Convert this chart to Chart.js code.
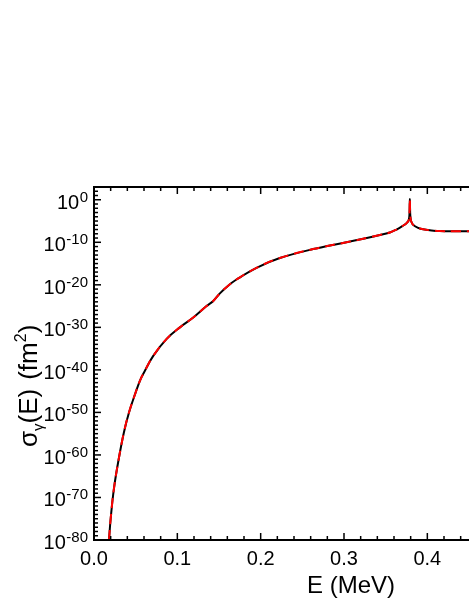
<!DOCTYPE html>
<html>
<head>
<meta charset="utf-8">
<script src="https://cdn.jsdelivr.net/npm/chart.js@4.4.1/dist/chart.umd.min.js"></script>
<style>
  html, body { margin: 0; padding: 0; background: #fff; }
  #wrap { width: 469px; height: 607px; position: relative; }
</style>
</head>
<body>
<div id="wrap"><canvas id="c"></canvas></div>
<script>
// energy E (MeV) and log10 of sigma_gamma (fm^2)
const energy = [0.0180, 0.0200, 0.0240, 0.0300, 0.0360, 0.0420, 0.0500, 0.0552, 0.0600, 0.0711, 0.0872,
                0.1031, 0.1191, 0.1351, 0.1431, 0.1511, 0.1610, 0.1710, 0.1950, 0.2230,
                0.2630, 0.3030, 0.3430, 0.3550, 0.3630, 0.3700, 0.3750, 0.3775, 0.3785, 0.3790,
                0.3795, 0.3805, 0.3830, 0.3890, 0.3950, 0.4050, 0.4150, 0.4300, 0.4500];
const logSigma = [-80, -75.0, -67.8, -60.6, -54.6, -50.0, -45.3, -42.5, -40.6, -36.7, -32.7,
                  -30.0, -27.7, -25.0, -23.8, -22.0, -20.2, -18.75, -16.0, -13.7,
                  -11.6, -10.0, -8.3, -7.7, -7.0, -6.2, -5.5, -4.9, -3.5, 0.2,
                  -3.5, -5.0, -5.9, -6.6, -6.95, -7.2, -7.35, -7.4, -7.4];

const xMajor = [0.0, 0.1, 0.2, 0.3, 0.4];
const xLabels = ['0.0', '0.1', '0.2', '0.3', '0.4'];
const yMajorExp = [0, -10, -20, -30, -40, -50, -60, -70, -80];

const points = energy.map((e, i) => ({ x: e, y: Math.pow(10, logSigma[i]) }));

const FONT = '"Liberation Sans", Arial, sans-serif';

const axesPlugin = {
    id: 'axesPlugin',
    afterDraw(chart) {
        const { ctx, chartArea: a, scales } = chart;
        const xs = scales.x, ys = scales.y;
        ctx.save();
        ctx.strokeStyle = '#000';
        ctx.fillStyle = '#000';

        // frame
        ctx.lineWidth = 2;
        ctx.beginPath();
        ctx.moveTo(a.right + 2, a.top); ctx.lineTo(a.left, a.top);
        ctx.lineTo(a.left, a.bottom); ctx.lineTo(a.right + 2, a.bottom);
        ctx.stroke();

        // x ticks (inward, top and bottom)
        ctx.lineWidth = 1.5;
        for (let k = 0; k <= 22; k++) {
            const v = k * 0.02;
            const px = xs.getPixelForValue(v);
            if (px > a.right + 1) continue;
            const len = (k % 5 === 0) ? 7 : 4;
            ctx.beginPath();
            ctx.moveTo(px, a.bottom); ctx.lineTo(px, a.bottom - len);
            ctx.moveTo(px, a.top); ctx.lineTo(px, a.top + len);
            ctx.stroke();
        }

        // y ticks (inward, left)
        for (let e = -80; e <= 3; e++) {
            const py = ys.getPixelForValue(Math.pow(10, e));
            const len = (e % 10 === 0) ? 7 : 4;
            ctx.beginPath();
            ctx.moveTo(a.left, py); ctx.lineTo(a.left + len, py);
            ctx.stroke();
        }

        // x tick labels
        ctx.font = '20px ' + FONT;
        ctx.textAlign = 'center';
        ctx.textBaseline = 'alphabetic';
        xMajor.forEach((v, i) => {
            ctx.fillText(xLabels[i], xs.getPixelForValue(v), 565);
        });

        // y tick labels 10^n
        yMajorExp.forEach(e => {
            const py = ys.getPixelForValue(Math.pow(10, e));
            ctx.textAlign = 'right';
            ctx.font = '15px ' + FONT;
            const sup = String(e);
            ctx.fillText(sup, 88, py + 2);
            const w = ctx.measureText(sup).width;
            ctx.font = '20px ' + FONT;
            ctx.fillText('10', 88 - w - 0.5, py + 9);
        });

        // x title
        ctx.font = '24px ' + FONT;
        ctx.textAlign = 'center';
        ctx.fillText('E (MeV)', 351, 593);

        // y title, rotated
        ctx.translate(37, 447);
        ctx.rotate(-Math.PI / 2);
        ctx.textAlign = 'left';
        let x = 0;
        const piece = (txt, size, dy) => {
            ctx.font = size + 'px ' + FONT;
            ctx.fillText(txt, x, dy);
            x += ctx.measureText(txt).width;
        };
        piece('σ', 26, 0);
        piece('γ', 15, 6);
        piece('(E)', 26, 0);
        x += 9;
        piece('(fm', 26, 0);
        piece('2', 16, -11);
        piece(')', 26, 0);

        ctx.restore();
    }
};

const chart = new Chart(document.getElementById('c'), {
    type: 'line',
    data: {
        datasets: [
            {
                label: 'red',
                data: points,
                borderColor: '#ff0000',
                borderWidth: 2,
                borderDash: [10, 6],
                pointRadius: 0,
                tension: 0.4,
                fill: false,
                order: 0
            },
            {
                label: 'black',
                data: points,
                borderColor: '#000000',
                borderWidth: 2,
                pointRadius: 0,
                tension: 0.4,
                fill: false,
                order: 1
            }
        ]
    },
    options: {
        responsive: true,
        maintainAspectRatio: false,
        animation: false,
        devicePixelRatio: 1,
        layout: { padding: { top: 187, right: 0, left: 0, bottom: 0 } },
        plugins: { legend: { display: false }, tooltip: { enabled: false } },
        scales: {
            x: {
                type: 'linear',
                min: 0,
                max: 0.45,
                grid: { display: false },
                border: { display: false },
                ticks: { display: false },
                afterFit: s => { s.height = 67; }
            },
            y: {
                type: 'logarithmic',
                min: 1e-80,
                max: 1e3,
                grid: { display: false },
                border: { display: false },
                ticks: { display: false },
                afterBuildTicks: s => { s.ticks = yMajorExp.map(e => ({ value: Math.pow(10, e) })); },
                afterFit: s => { s.width = 94; }
            }
        }
    },
    plugins: [axesPlugin]
});
</script>
</body>
</html>
